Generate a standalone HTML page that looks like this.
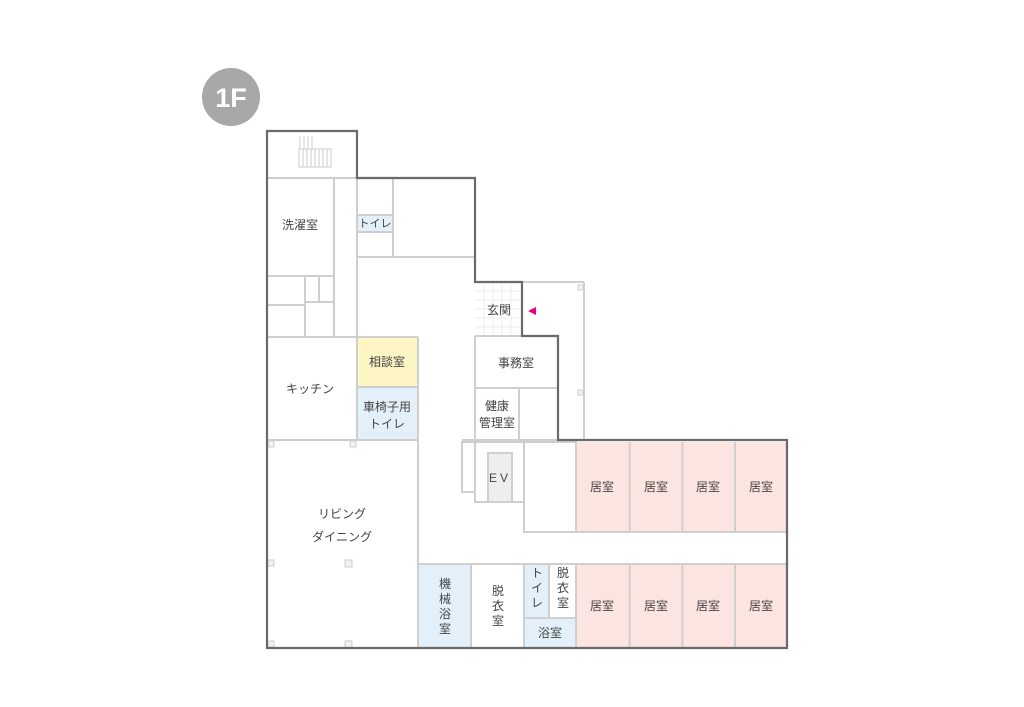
<!DOCTYPE html>
<html><head><meta charset="utf-8"><style>
html,body{margin:0;padding:0;background:#fff;}
svg{display:block;}
text{font-family:"Liberation Sans","Noto Sans CJK JP",sans-serif;fill:#444;font-size:12px;text-anchor:middle;}
</style></head><body>
<svg width="1024" height="707" viewBox="0 0 1024 707">
<circle cx="231" cy="97" r="29" fill="#a8a8a8"/>
<text x="231" y="107" style="fill:#fff;font-size:27px;font-weight:bold">1F</text>
<!-- fills -->
<rect x="357" y="337" width="61" height="50" fill="#fdf5c4"/>
<rect x="357" y="387" width="61" height="53" fill="#e3f0fa"/>
<rect x="357" y="215" width="36" height="17" fill="#e3f0fa"/>
<rect x="419" y="564" width="52" height="84" fill="#e3f0fa"/>
<rect x="524" y="564" width="25" height="54" fill="#e3f0fa"/>
<rect x="524" y="618" width="52" height="30" fill="#e3f0fa"/>
<rect x="576" y="442" width="211" height="90" fill="#fce4e0"/>
<rect x="576" y="564" width="211" height="84" fill="#fce4e0"/>
<rect x="488" y="453" width="24" height="49" fill="#eeeeee"/>
<!-- entrance grid -->
<g stroke="#eee" stroke-width="1">
<line x1="475" y1="291" x2="522" y2="291"/><line x1="475" y1="300" x2="522" y2="300"/><line x1="475" y1="309" x2="522" y2="309"/><line x1="475" y1="318" x2="522" y2="318"/><line x1="475" y1="327" x2="522" y2="327"/>
<line x1="484" y1="282" x2="484" y2="336"/><line x1="493" y1="282" x2="493" y2="336"/><line x1="502" y1="282" x2="502" y2="336"/><line x1="511" y1="282" x2="511" y2="336"/>
</g>
<!-- light walls -->
<g stroke="#cfcfcf" stroke-width="2" fill="none">
<line x1="267" y1="178" x2="357" y2="178"/>
<line x1="334" y1="178" x2="334" y2="337"/>
<line x1="357" y1="178" x2="357" y2="440"/>
<line x1="267" y1="276" x2="334" y2="276"/>
<line x1="267" y1="305" x2="305" y2="305"/>
<line x1="305" y1="302" x2="334" y2="302"/>
<line x1="305" y1="276" x2="305" y2="337"/>
<line x1="319" y1="276" x2="319" y2="302"/>
<line x1="267" y1="337" x2="418" y2="337"/>
<line x1="393" y1="178" x2="393" y2="257"/>
<line x1="357" y1="215" x2="393" y2="215"/>
<line x1="357" y1="232" x2="393" y2="232"/>
<line x1="357" y1="257" x2="475" y2="257"/>
<line x1="357" y1="387" x2="418" y2="387"/>
<line x1="418" y1="337" x2="418" y2="648"/>
<line x1="267" y1="440" x2="418" y2="440"/>
<line x1="475" y1="336" x2="475" y2="440"/>
<line x1="475" y1="336" x2="522" y2="336"/>
<line x1="475" y1="388" x2="558" y2="388"/>
<line x1="519" y1="388" x2="519" y2="440"/>
<line x1="462" y1="440" x2="558" y2="440"/>
<line x1="522" y1="282" x2="584" y2="282"/>
<line x1="584" y1="282" x2="584" y2="440"/>
<rect x="462" y="442" width="13" height="50"/>
<rect x="475" y="442" width="49" height="60"/>
<rect x="488" y="453" width="24" height="49"/>
<rect x="524" y="442" width="52" height="90"/>
<line x1="629.7" y1="442" x2="629.7" y2="532"/>
<line x1="682.4" y1="442" x2="682.4" y2="532"/>
<line x1="735" y1="442" x2="735" y2="532"/>
<line x1="576" y1="532" x2="787" y2="532"/>
<line x1="418" y1="564" x2="787" y2="564"/>
<line x1="471" y1="564" x2="471" y2="648"/>
<line x1="524" y1="564" x2="524" y2="648"/>
<line x1="549" y1="564" x2="549" y2="618"/>
<line x1="524" y1="618" x2="576" y2="618"/>
<line x1="576" y1="564" x2="576" y2="648"/>
<line x1="629.7" y1="564" x2="629.7" y2="648"/>
<line x1="682.4" y1="564" x2="682.4" y2="648"/>
<line x1="735" y1="564" x2="735" y2="648"/>
</g>
<!-- stairs -->
<g stroke="#ccc" stroke-width="1" fill="none">
<rect x="299" y="149" width="32" height="18"/>
<line x1="303" y1="149" x2="303" y2="167"/><line x1="307" y1="149" x2="307" y2="167"/><line x1="311" y1="149" x2="311" y2="167"/><line x1="315" y1="149" x2="315" y2="167"/><line x1="319" y1="149" x2="319" y2="167"/><line x1="323" y1="149" x2="323" y2="167"/><line x1="327" y1="149" x2="327" y2="167"/>
<line x1="300" y1="136" x2="300" y2="149"/><line x1="304" y1="136" x2="304" y2="149"/><line x1="308" y1="136" x2="308" y2="149"/><line x1="312" y1="136" x2="312" y2="149"/>
</g>
<!-- pillars -->
<g fill="#f2f2f2" stroke="#ccc" stroke-width="1">
<rect x="268" y="441" width="6" height="6"/><rect x="350" y="441" width="6" height="6"/>
<rect x="268" y="560" width="6" height="6"/><rect x="345" y="560" width="7" height="7"/>
<rect x="268" y="641" width="6" height="6"/><rect x="345" y="641" width="7" height="7"/>
<rect x="578" y="285" width="5" height="5"/><rect x="578" y="390" width="5" height="5"/>
</g>
<!-- outline -->
<polygon points="267,131 357,131 357,178 475,178 475,282 522,282 522,336 558,336 558,440 787,440 787,648 267,648" fill="none" stroke="#6a6a6a" stroke-width="2.2"/>
<polygon points="528,311 536,307 536,315" fill="#e5007f"/>
<!-- labels -->
<text x="300" y="229">洗濯室</text>
<text x="375" y="227" style="font-size:11px">トイレ</text>
<text x="310" y="393">キッチン</text>
<text x="387" y="366">相談室</text>
<text x="387" y="411">車椅子用</text>
<text x="387" y="428">トイレ</text>
<text x="499" y="314">玄関</text>
<text x="516" y="367">事務室</text>
<text x="497" y="410">健康</text>
<text x="497" y="427">管理室</text>
<text x="500" y="482" style="letter-spacing:3px">EV</text>
<text x="342" y="518">リビング</text>
<text x="342" y="541">ダイニング</text>
<g>
<text x="602" y="491">居室</text><text x="656" y="491">居室</text><text x="708" y="491">居室</text><text x="761" y="491">居室</text>
<text x="602" y="610">居室</text><text x="656" y="610">居室</text><text x="708" y="610">居室</text><text x="761" y="610">居室</text>
</g>
<text x="445" y="588">機</text><text x="445" y="603">械</text><text x="445" y="618">浴</text><text x="445" y="633">室</text>
<text x="498" y="595">脱</text><text x="498" y="610">衣</text><text x="498" y="625">室</text>
<text x="537" y="577">ト</text><text x="537" y="592">イ</text><text x="537" y="607">レ</text>
<text x="563" y="577">脱</text><text x="563" y="592">衣</text><text x="563" y="607">室</text>
<text x="550" y="637">浴室</text>
</svg>
</body></html>
